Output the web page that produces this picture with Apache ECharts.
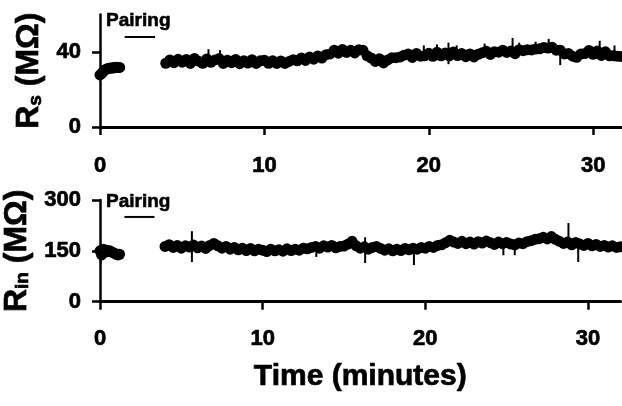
<!DOCTYPE html>
<html>
<head>
<meta charset="utf-8">
<script src="https://cdn.jsdelivr.net/npm/echarts@6/dist/echarts.min.js"></script>
<style>
  html, body { margin: 0; padding: 0; background: #fff; }
  #chart { width: 622px; height: 406px; }
</style>
</head>
<body>
<div id="chart"></div>
<script>
// Recording before pairing (minutes)
const preTimes = [0, 0.1, 0.2, 0.3, 0.4, 0.5, 0.6, 0.7, 0.8, 0.9, 1.0, 1.1, 1.2];
// Recording after pairing (minutes)
const postTimes = [
  4, 4.25, 4.5, 4.75, 5, 5.25, 5.5, 5.75, 6, 6.25, 6.5, 6.75, 7, 7.25, 7.5, 7.75,
  8, 8.25, 8.5, 8.75, 9, 9.25, 9.5, 9.75, 10, 10.25, 10.5, 10.75, 11, 11.25, 11.5, 11.75,
  12, 12.25, 12.5, 12.75, 13, 13.25, 13.5, 13.75, 14, 14.25, 14.5, 14.75, 15, 15.25, 15.5, 15.75,
  16, 16.25, 16.5, 16.75, 17, 17.25, 17.5, 17.75, 18, 18.25, 18.5, 18.75, 19, 19.25, 19.5, 19.75,
  20, 20.25, 20.5, 20.75, 21, 21.25, 21.5, 21.75, 22, 22.25, 22.5, 22.75, 23, 23.25, 23.5, 23.75,
  24, 24.25, 24.5, 24.75, 25, 25.25, 25.5, 25.75, 26, 26.25, 26.5, 26.75, 27, 27.25, 27.5, 27.75,
  28, 28.25, 28.5, 28.75, 29, 29.25, 29.5, 29.75, 30, 30.25, 30.5, 30.75, 31, 31.25, 31.5, 31.75,
  32
];

// Series resistance Rs (MΩ)
const rsPre = [27.8, 28.5, 29.6, 30.4, 31.0, 31.2, 31.5, 31.3, 31.8, 31.6, 31.9, 31.7, 31.8];
const rsPost = [
  34.0, 35.8, 34.3, 36.1, 34.6, 36.0, 33.9, 36.6, 35.1, 34.0, 36.3, 34.5, 35.8, 36.5, 33.9, 35.6,
  34.3, 36.0, 33.8, 35.4, 34.1, 35.9, 33.9, 35.3, 35.6, 34.0, 35.4, 33.9, 35.2, 33.9, 35.0, 35.9,
  35.3, 36.8, 35.5, 37.4, 36.2, 37.9, 36.8, 38.6, 39.0, 41.0, 39.4, 41.4, 39.8, 40.9, 39.5, 41.2,
  40.9, 38.0, 36.8, 35.0, 36.4, 34.2, 35.8, 36.9, 37.0, 37.3, 38.3, 38.9, 37.1, 39.2, 37.8, 38.0,
  39.3, 37.7, 39.9, 38.0, 39.5, 37.9, 40.0, 38.1, 39.2, 37.5, 39.0, 37.4, 38.8, 39.6, 40.4, 38.7,
  40.2, 39.9, 41.0, 39.8, 40.6, 39.1, 41.2, 40.7, 41.2, 41.1, 41.6, 41.7, 42.4, 42.1, 42.6, 41.0,
  41.0, 39.0, 39.2, 37.8, 37.2, 38.9, 39.2, 40.8, 38.8, 40.5, 38.2, 40.1, 38.0, 38.1, 37.8, 37.6,
  37.1
];
// Brief excursions in Rs: [time, low, high]
const rsSpikes = [
  [6.6, 35, 41.5], [7.3, 35, 41], [19.7, 37, 43.5], [20.5, 37, 44], [21.2, 33.5, 45],
  [21.7, 37, 43.5], [23.4, 38, 44.5], [25.1, 38, 47.5], [25.5, 38, 45], [26.5, 39, 45.5],
  [27.3, 40, 47], [28.0, 33, 39], [30.4, 36, 46], [31.3, 35, 43.5]
];

// Input resistance Rin (MΩ)
const rinPre = [150, 138, 155, 146, 152, 148, 150, 147, 145, 143, 140, 138, 140];
const rinPost = [
  163, 168, 160, 166, 158, 165, 161, 167, 159, 164, 157, 166, 172, 165, 158, 163,
  155, 160, 153, 158, 151, 157, 150, 155, 152, 148, 155, 150, 153, 149, 156, 151,
  155, 152, 158, 156, 160, 163, 158, 165, 161, 166, 159, 163, 164, 170, 178, 165,
  158, 162, 155, 160, 163, 157, 152, 156, 150, 155, 151, 157, 153, 158, 155, 160,
  158, 163, 160, 166, 168, 174, 181, 176, 172, 178, 171, 176, 170, 177, 173, 179,
  174, 169, 176, 171, 175, 170, 168, 173, 171, 177, 180, 184, 186, 190, 185, 192,
  184, 178, 172, 176, 168, 175, 170, 166, 172, 165, 169, 163, 166, 161, 165, 160,
  162
];
// Brief excursions in Rin: [time, low, high]
const rinSpikes = [
  [0.05, 115, 172], [5.65, 117, 208], [13.3, 132, 160], [16.3, 114, 190], [19.3, 108, 160],
  [24.8, 137, 172], [25.5, 137, 170], [28.8, 165, 232], [29.4, 117, 170]
];

// Pairing period (minutes) and label placement [start, end, barValue, labelTime, labelValue]
const pairingRs = [[1.5, 3.35, 48, 0.37, 61.5]];
const pairingRin = [[1.5, 3.35, 250, 0.37, 322]];

const xTicks = [0, 10, 20, 30];
const rsTicks = [0, 40];
const rinTicks = [0, 150, 300];

const FONT = '"Liberation Sans", Arial, sans-serif';
const INK = '#000';

const pairs = (ts, vs) => ts.map((t, i) => [t, vs[i]]);

function traceSeries(idx, data) {
  return {
    type: 'line',
    xAxisIndex: idx, yAxisIndex: idx,
    data: data,
    symbol: 'circle', symbolSize: 11, showSymbol: true, showAllSymbol: true,
    itemStyle: { color: INK },
    lineStyle: { color: INK, width: 3 },
    silent: true, z: 3
  };
}

function spikeSeries(idx, data) {
  return {
    type: 'custom',
    xAxisIndex: idx, yAxisIndex: idx,
    data: data,
    encode: { x: 0, y: [1, 2] },
    renderItem: (params, api) => {
      const a = api.coord([api.value(0), api.value(1)]);
      const b = api.coord([api.value(0), api.value(2)]);
      return { type: 'line', shape: { x1: a[0], y1: a[1], x2: b[0], y2: b[1] },
               style: { stroke: INK, lineWidth: 2 } };
    },
    silent: true, z: 4
  };
}

function pairingSeries(idx, data) {
  return {
    type: 'custom',
    xAxisIndex: idx, yAxisIndex: idx,
    data: data,
    encode: { x: [0, 1, 3], y: [2, 4] },
    renderItem: (params, api) => {
      const p1 = api.coord([api.value(0), api.value(2)]);
      const p2 = api.coord([api.value(1), api.value(2)]);
      const pt = api.coord([api.value(3), api.value(4)]);
      return {
        type: 'group',
        children: [
          { type: 'line', shape: { x1: p1[0], y1: p1[1], x2: p2[0], y2: p2[1] },
            style: { stroke: INK, lineWidth: 2 } },
          { type: 'text', x: pt[0], y: pt[1],
            style: { text: 'Pairing', fill: INK, font: 'bold 19px ' + FONT,
                     stroke: INK, lineWidth: 0.6,
                     align: 'left', verticalAlign: 'top' } }
        ]
      };
    },
    silent: true, z: 5
  };
}

const labelInk = { color: INK, fontWeight: 'bold', fontFamily: FONT,
                   textBorderColor: INK, textBorderWidth: 0.7 };

function xAxisCfg(idx, labelMargin, showName) {
  return {
    type: 'value', gridIndex: idx, min: 0, max: 32,
    splitLine: { show: false },
    axisLine: { onZero: false, lineStyle: { color: INK, width: 3 } },
    axisTick: { show: true, length: 8, lineStyle: { color: INK, width: 2.5 }, customValues: xTicks },
    axisLabel: Object.assign({ fontSize: 22, margin: labelMargin, customValues: xTicks }, labelInk),
    name: showName ? 'Time (minutes)' : '',
    nameLocation: 'middle', nameGap: 60,
    nameTextStyle: Object.assign({ fontSize: 30 }, labelInk)
  };
}

function yAxisCfg(idx, max, ticks, sub) {
  return {
    type: 'value', gridIndex: idx, min: 0, max: max,
    splitLine: { show: false },
    axisLine: { lineStyle: { color: INK, width: 2.5 } },
    axisTick: { show: true, length: 8, lineStyle: { color: INK, width: 2.5 }, customValues: ticks },
    axisLabel: Object.assign({ fontSize: 22, margin: 19, customValues: ticks }, labelInk),
    name: '{r|R}{s|' + sub + '}{r| (MΩ)}',
    nameLocation: 'middle', nameGap: 53, nameRotate: 90,
    nameTextStyle: {
      color: INK,
      rich: {
        r: Object.assign({ fontSize: 32 }, labelInk),
        s: Object.assign({ fontSize: 19, verticalAlign: 'bottom' }, labelInk)
      }
    }
  };
}

const chart = echarts.init(document.getElementById('chart'), null, { renderer: 'canvas' });
chart.setOption({
  animation: false,
  backgroundColor: '#fff',
  grid: [
    { left: 100, top: 14.5, width: 526, height: 112.5, outerBoundsMode: 'none', containLabel: false },
    { left: 100, top: 200, width: 520.5, height: 101.7, outerBoundsMode: 'none', containLabel: false }
  ],
  xAxis: [xAxisCfg(0, 28, false), xAxisCfg(1, 26, true)],
  yAxis: [yAxisCfg(0, 60, rsTicks, 's'), yAxisCfg(1, 300, rinTicks, 'in')],
  series: [
    traceSeries(0, pairs(preTimes, rsPre)),
    traceSeries(0, pairs(postTimes, rsPost)),
    spikeSeries(0, rsSpikes),
    pairingSeries(0, pairingRs),
    traceSeries(1, pairs(preTimes, rinPre)),
    traceSeries(1, pairs(postTimes, rinPost)),
    spikeSeries(1, rinSpikes),
    pairingSeries(1, pairingRin)
  ]
});
</script>
</body>
</html>
